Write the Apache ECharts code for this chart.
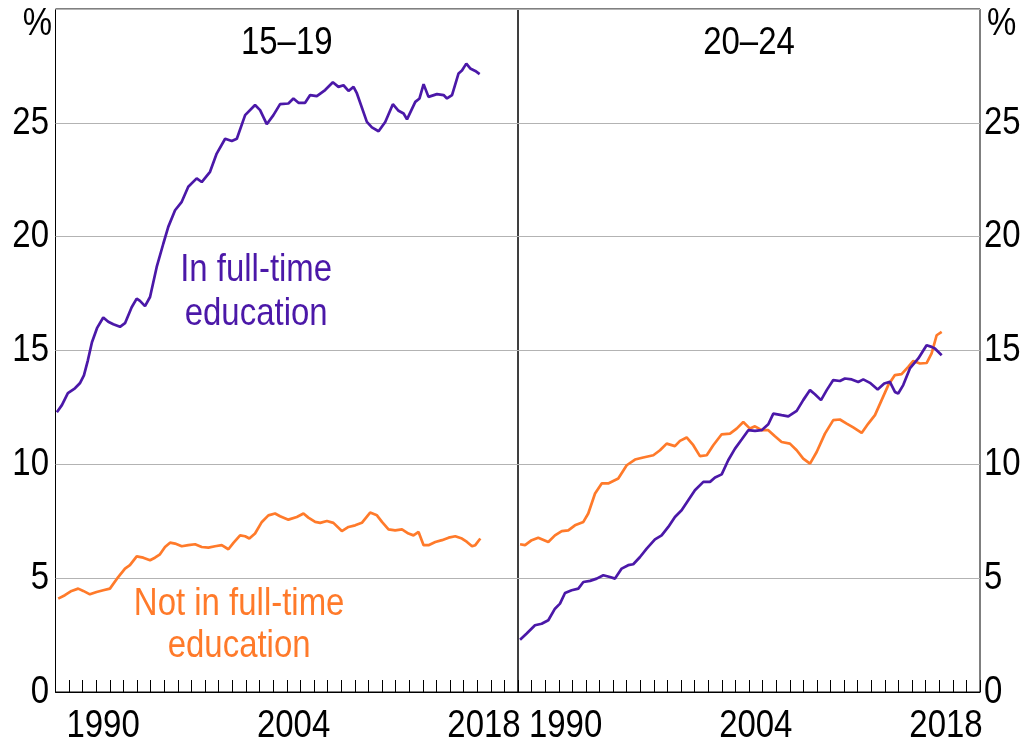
<!DOCTYPE html>
<html>
<head>
<meta charset="utf-8">
<script src="https://cdn.jsdelivr.net/npm/echarts@6/dist/echarts.min.js"></script>
<style>
html,body{margin:0;padding:0;background:#fff;}
#chart{width:1029px;height:744px;}
</style>
</head>
<body>
<div id="chart"></div>
<script>
// ---- Data (decimal years, per cent) ----
const yearCategories = [];
for (let y = 1987; y <= 2020; y++) yearCategories.push(String(y));
const labelledYears = ['1990', '2004', '2018'];
const yTicks = [0, 5, 10, 15, 20, 25];

// 15–19, in full-time education
const teenFTYears = [1987.10,1987.47,1987.91,1988.43,1988.79,1989.09,1989.38,1989.68,1990.05,1990.51,1990.88,1991.25,1991.74,1992.11,1992.60,1992.97,1993.21,1993.58,1993.95,1994.44,1994.93,1995.29,1995.79,1996.28,1996.76,1997.38,1997.75,1998.36,1998.85,1999.47,1999.96,2000.33,2000.94,2001.67,2002.04,2002.53,2003.02,2003.51,2004.12,2004.49,2004.86,2005.35,2005.72,2006.21,2006.82,2007.39,2007.80,2008.17,2008.54,2008.91,2009.16,2009.89,2010.26,2010.75,2011.24,2011.80,2012.22,2012.59,2012.84,2013.45,2013.76,2014.06,2014.42,2015.04,2015.53,2015.78,2016.15,2016.63,2016.88,2017.20,2017.49,2017.86,2018.18];
const teenFTValues = [12.29,12.60,13.13,13.34,13.56,13.91,14.57,15.36,15.98,16.45,16.26,16.15,16.04,16.20,16.90,17.28,17.18,16.95,17.35,18.67,19.70,20.43,21.16,21.53,22.19,22.56,22.40,22.85,23.65,24.30,24.20,24.30,25.34,25.78,25.56,24.94,25.34,25.82,25.85,26.07,25.88,25.88,26.22,26.17,26.44,26.78,26.58,26.65,26.40,26.58,26.29,25.04,24.80,24.63,25.04,25.82,25.53,25.41,25.15,25.92,26.07,26.70,26.14,26.26,26.22,26.07,26.22,27.17,27.30,27.60,27.39,27.28,27.14];

// 15–19, not in full-time education
const teenNFTYears = [1987.20,1987.69,1988.18,1988.67,1989.04,1989.53,1990.02,1990.51,1991.00,1991.61,1992.11,1992.47,1992.97,1993.45,1993.95,1994.31,1994.68,1995.05,1995.42,1995.79,1996.28,1996.76,1997.26,1997.75,1998.24,1998.73,1999.22,1999.71,2000.08,2000.57,2000.94,2001.25,2001.67,2002.17,2002.65,2003.14,2003.51,2004.12,2004.74,2005.23,2005.59,2006.09,2006.46,2006.95,2007.43,2008.05,2008.54,2009.03,2009.52,2010.13,2010.63,2011.00,2011.48,2011.97,2012.47,2012.95,2013.32,2013.69,2014.06,2014.42,2014.92,2015.41,2015.90,2016.39,2016.88,2017.25,2017.62,2017.86,2018.23];
const teenNFTValues = [4.10,4.25,4.44,4.54,4.44,4.29,4.39,4.47,4.54,5.05,5.42,5.57,5.96,5.90,5.79,5.90,6.05,6.37,6.56,6.52,6.40,6.45,6.49,6.37,6.34,6.40,6.45,6.27,6.55,6.88,6.84,6.74,6.96,7.47,7.76,7.84,7.72,7.57,7.69,7.84,7.66,7.47,7.43,7.51,7.43,7.07,7.25,7.32,7.43,7.88,7.76,7.47,7.14,7.10,7.14,6.96,6.88,7.03,6.45,6.45,6.59,6.67,6.78,6.84,6.74,6.59,6.40,6.45,6.74];

// 20–24, in full-time education
const adultFTYears = [1987.15,1987.64,1988.25,1988.74,1989.23,1989.72,1990.09,1990.46,1990.95,1991.44,1991.81,1992.30,1992.79,1993.28,1993.77,1994.14,1994.63,1995.11,1995.48,1995.98,1996.47,1997.08,1997.57,1998.06,1998.55,1999.04,1999.53,2000.02,2000.64,2001.13,2001.50,2001.99,2002.47,2002.97,2003.46,2003.95,2004.44,2004.93,2005.42,2005.79,2006.40,2006.89,2007.51,2007.99,2008.49,2008.85,2009.30,2009.72,2010.20,2010.69,2011.06,2011.56,2012.04,2012.41,2012.90,2013.47,2013.95,2014.37,2014.74,2014.98,2015.35,2015.84,2016.46,2017.07,2017.44,2017.68,2018.18];
const adultFTValues = [2.30,2.57,2.93,3.00,3.15,3.66,3.88,4.35,4.47,4.54,4.83,4.88,4.98,5.13,5.05,4.98,5.42,5.57,5.61,5.93,6.30,6.70,6.88,7.25,7.69,7.98,8.42,8.86,9.23,9.23,9.42,9.56,10.18,10.69,11.09,11.50,11.47,11.50,11.76,12.23,12.16,12.11,12.35,12.82,13.26,13.08,12.82,13.26,13.70,13.66,13.77,13.73,13.62,13.73,13.58,13.29,13.55,13.62,13.18,13.11,13.48,14.21,14.65,15.23,15.16,15.09,14.79];

// 20–24, not in full-time education
const adultNFTYears = [1987.15,1987.52,1988.01,1988.49,1989.23,1989.72,1990.22,1990.70,1991.19,1991.81,1992.17,1992.67,1993.16,1993.64,1994.38,1995.00,1995.61,1996.22,1996.96,1997.45,1997.94,1998.55,1998.92,1999.41,1999.90,2000.39,2000.89,2001.37,2001.99,2002.60,2003.09,2003.58,2004.07,2004.44,2004.93,2005.42,2005.91,2006.40,2007.01,2007.51,2007.99,2008.49,2008.98,2009.59,2010.20,2010.69,2011.19,2011.67,2012.29,2012.78,2013.27,2013.76,2014.25,2014.74,2015.23,2015.72,2016.09,2016.58,2017.07,2017.44,2017.81,2018.18];
const adultNFTValues = [6.49,6.45,6.67,6.78,6.59,6.88,7.07,7.10,7.32,7.47,7.84,8.72,9.16,9.16,9.38,9.96,10.21,10.30,10.40,10.62,10.91,10.80,11.03,11.18,10.84,10.36,10.40,10.84,11.32,11.35,11.57,11.86,11.57,11.67,11.50,11.50,11.23,10.98,10.91,10.62,10.25,10.03,10.54,11.35,11.94,11.97,11.79,11.62,11.38,11.79,12.16,12.82,13.48,13.92,13.96,14.28,14.54,14.43,14.45,14.87,15.67,15.82];

const panelTitles = ['15–19', '20–24'];
const annoFT = 'In full-time\neducation';
const annoNFT = 'Not in full-time\neducation';

// ---- Styles ----
const FONT = "'Liberation Sans Narrow','Arial Narrow','Liberation Sans',Arial,sans-serif";
const PURPLE = '#4B18A8';
const ORANGE = '#FF7A2A';
const FS = 39;
const SX = 0.845; // narrow (condensed) look of the original typeface

function zip(xs, ys) { return xs.map((x, i) => [x, ys[i]]); }

const catAxis = (gi) => ({
  type: 'category', gridIndex: gi, data: yearCategories, boundaryGap: true,
  axisLine: { show: true, lineStyle: { color: '#000', width: 1 } },
  axisTick: { show: true, inside: true, length: 12, interval: 0, lineStyle: { color: '#000', width: 1 } },
  axisLabel: { show: false },
  splitLine: { show: false }
});
const valXAxis = (gi) => ({
  type: 'value', gridIndex: gi, min: 1987, max: 2021, show: false
});
const yAx = (gi, pos) => ({
  type: 'value', gridIndex: gi, min: 0, max: 30, interval: 5, position: pos,
  axisLine: { show: false }, axisTick: { show: false },
  axisLabel: { show: false },
  splitLine: { show: true, lineStyle: { color: '#b3b3b3', width: 1 } }
});

const lineSeries = (xi, yi, data, color) => ({
  type: 'line', xAxisIndex: xi, yAxisIndex: yi, data: data,
  showSymbol: false, symbol: 'none', smooth: false,
  lineStyle: { color: color, width: 2.7 }, z: 3, animation: false
});

const txt = (x, y, text, color, align, lh) => ({
  type: 'text', x: x, y: y, z: 10, scaleX: SX, silent: true,
  style: {
    text: text, fill: color,
    fontSize: FS, fontFamily: FONT,
    textAlign: align, textVerticalAlign: 'middle', lineHeight: lh || FS
  }
});

const chart = echarts.init(document.getElementById('chart'), null, { renderer: 'canvas' });
chart.setOption({
  animation: false,
  backgroundColor: '#fff',
  grid: [
    { left: 55.5, right: 511, top: 9, bottom: 52, show: true, borderColor: '#000', borderWidth: 1, backgroundColor: 'transparent' },
    { left: 518, right: 49, top: 9, bottom: 52, show: true, borderColor: '#000', borderWidth: 1, backgroundColor: 'transparent' }
  ],
  xAxis: [catAxis(0), valXAxis(0), catAxis(1), valXAxis(1)],
  yAxis: [yAx(0, 'left'), yAx(1, 'right')],
  series: [
    lineSeries(1, 0, zip(teenNFTYears, teenNFTValues), ORANGE),
    lineSeries(1, 0, zip(teenFTYears, teenFTValues), PURPLE),
    lineSeries(3, 1, zip(adultNFTYears, adultNFTValues), ORANGE),
    lineSeries(3, 1, zip(adultFTYears, adultFTValues), PURPLE)
  ]
});

// Tick labels placed through the axes' own scales
const labels = [];
[0, 1].forEach(p => {
  const xi = p * 2 + 1;
  const y0 = chart.convertToPixel({ yAxisIndex: p }, 0);
  labelledYears.forEach(yr => {
    const px = chart.convertToPixel({ xAxisIndex: xi }, Number(yr) + 0.5);
    labels.push(txt(px, y0 + 34, yr, '#000', 'center'));
  });
  const edge = p === 0
    ? chart.convertToPixel({ xAxisIndex: 1 }, 1987) - 6.5
    : chart.convertToPixel({ xAxisIndex: 3 }, 2021) + 4;
  yTicks.forEach(v => {
    const py = chart.convertToPixel({ yAxisIndex: p }, v);
    labels.push(txt(edge, py, String(v), '#000', p === 0 ? 'right' : 'left'));
  });
  const pyTop = chart.convertToPixel({ yAxisIndex: p }, 30);
  labels.push(txt(edge + 3, pyTop + 15, '%', '#000', p === 0 ? 'right' : 'left'));
  const mid = (chart.convertToPixel({ xAxisIndex: xi }, 1987) + chart.convertToPixel({ xAxisIndex: xi }, 2021)) / 2;
  labels.push(txt(mid, pyTop + 34.5, panelTitles[p], '#000', 'center'));
});
labels.push(txt(chart.convertToPixel({ xAxisIndex: 1 }, 2001.75), chart.convertToPixel({ yAxisIndex: 0 }, 17.55), annoFT, PURPLE, 'center', 43.5));
labels.push(txt(chart.convertToPixel({ xAxisIndex: 1 }, 2000.5), chart.convertToPixel({ yAxisIndex: 0 }, 2.93), annoNFT, ORANGE, 'center', 41.6));
chart.setOption({ graphic: labels });
</script>
</body>
</html>
